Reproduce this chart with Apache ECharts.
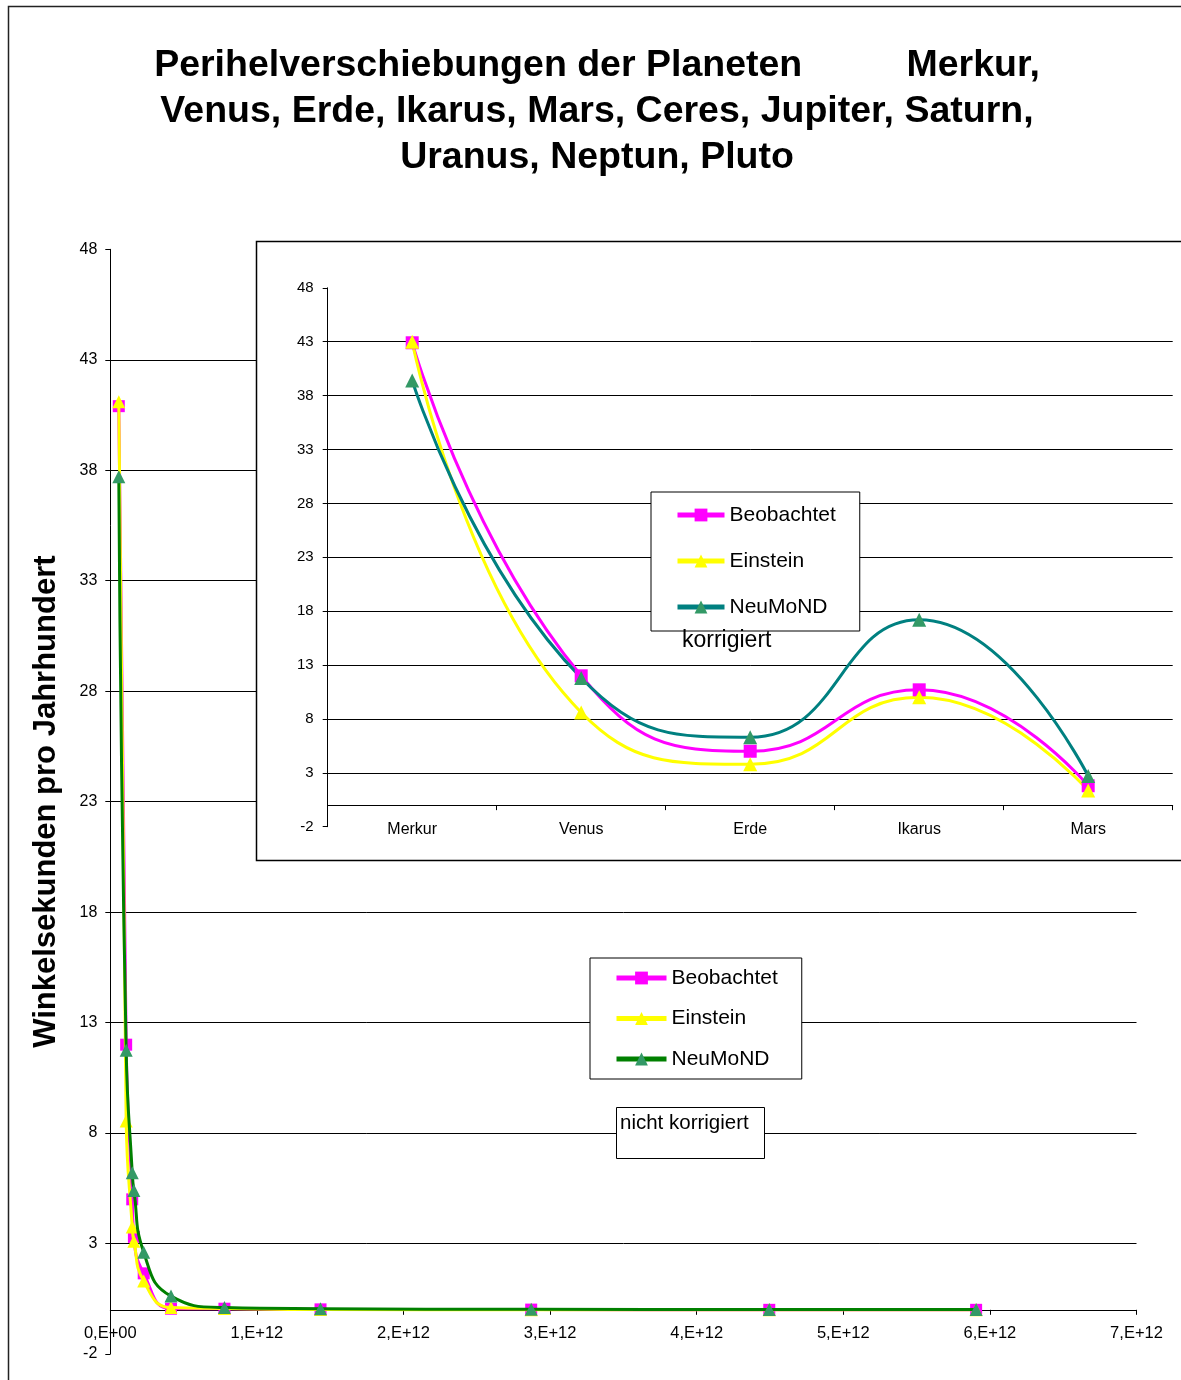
<!DOCTYPE html>
<html>
<head>
<meta charset="utf-8">
<script src="https://cdn.jsdelivr.net/npm/echarts@6/dist/echarts.min.js"></script>
<style>
html,body{margin:0;padding:0;background:#fff;}
#c{width:1181px;height:1380px;}
</style>
</head>
<body>
<div id="c"></div>
<script>
// ---------- DATA ----------
const titleLines = [
  'Perihelverschiebungen der Planeten          Merkur,',
  'Venus, Erde, Ikarus, Mars, Ceres, Jupiter, Saturn,',
  'Uranus, Neptun, Pluto'
];
const yAxisTitle = 'Winkelsekunden pro Jahrhundert';
const seriesNames = ['Beobachtet', 'Einstein', 'NeuMoND'];

// main chart (nicht korrigiert): x = große Halbachse in m
const planets = ['Merkur','Venus','Erde','Ikarus','Mars','Ceres','Jupiter','Saturn','Uranus','Neptun','Pluto'];
const semiMajorAxis = [5.79e10, 1.082e11, 1.496e11, 1.61e11, 2.279e11, 4.14e11, 7.785e11, 1.434e12, 2.871e12, 4.495e12, 5.906e12];
const beobachtetUncorr = [40.9, 12.0, 5.0, 3.3, 1.65, 0.05, 0.05, 0.02, 0.01, 0.0, 0.0];
const einsteinUncorr   = [41.1, 8.55, 3.75, 3.1, 1.3, 0.1, 0.06, 0.01, 0.0, 0.0, 0.0];
const neumondUncorr    = [37.7, 11.75, 6.2, 5.4, 2.6, 0.62, 0.1, 0.05, 0.02, 0.01, 0.01];
const xTickLabels = ['0,E+00','1,E+12','2,E+12','3,E+12','4,E+12','5,E+12','6,E+12','7,E+12'];

// inset (korrigiert)
const insetPlanets = ['Merkur','Venus','Erde','Ikarus','Mars'];
const beobachtetCorr = [42.9, 12.0, 5.0, 10.7, 1.8];
const einsteinCorr   = [43.0, 8.6, 3.8, 10.0, 1.35];
const neumondCorr    = [39.4, 11.8, 6.3, 17.2, 2.7];

const yTicks = [-2, 3, 8, 13, 18, 23, 28, 33, 38, 43, 48];
const gridValues = [3, 8, 13, 18, 23, 28, 33, 38, 43];

const noteMain = 'nicht korrigiert';
const noteInset = 'korrigiert';

// ---------- CHART ----------
const FONT = "'Liberation Sans', Arial, Helvetica, sans-serif";
const MAGENTA = '#FF00FF', YELLOW = '#FFFF00', GREEN = '#008000', TEAL = '#008080', MARK = '#339966';

const pair = (xs, ys) => xs.map((x, i) => [x, ys[i]]);

const chart = echarts.init(document.getElementById('c'));

const axisLabelStyle = (size, margin) => ({color:'#000', fontSize:size, fontFamily:FONT, margin:margin});

const option = {
  animation: false,
  backgroundColor: '#fff',
  textStyle: {fontFamily: FONT},
  grid: [
    {left:110.3, top:249.3, width:1026.2, height:1104.7, outerBoundsMode:'none', containLabel:false},
    {left:327.7, top:287.8, width:845, height:538.9, outerBoundsMode:'none', containLabel:false}
  ],
  xAxis: [
    {
      gridIndex:0, type:'value', min:0, max:7e12, interval:1e12,
      axisLine:{show:true, onZero:true, lineStyle:{color:'#000', width:1}},
      axisTick:{show:true, length:5, lineStyle:{color:'#000'}},
      axisLabel:Object.assign(axisLabelStyle(16.5, -29), {
        formatter:(v) => xTickLabels[Math.round(v/1e12)],
        showMinLabel:true, showMaxLabel:true
      }),
      splitLine:{show:false}
    },
    {
      gridIndex:1, type:'category', data:insetPlanets, boundaryGap:true, z:7,
      axisLine:{show:true, onZero:true, lineStyle:{color:'#000', width:1}},
      axisTick:{show:true, length:5, interval:0, lineStyle:{color:'#000'}},
      axisLabel:Object.assign(axisLabelStyle(16, -5.5), {interval:0}),
      splitLine:{show:false}
    }
  ],
  yAxis: [
    {
      gridIndex:0, type:'value', min:yTicks[0], max:yTicks[yTicks.length-1], interval:5,
      axisLine:{show:true, onZero:false, lineStyle:{color:'#000', width:1}},
      axisTick:{show:true, length:5, lineStyle:{color:'#000'}},
      axisLabel:axisLabelStyle(16, 13),
      splitLine:{show:false},
      name:yAxisTitle, nameLocation:'middle', nameRotate:90, nameGap:48,
      nameTextStyle:{fontSize:31, fontWeight:'bold', color:'#000', fontFamily:FONT}
    },
    {
      gridIndex:1, type:'value', min:yTicks[0], max:yTicks[yTicks.length-1], interval:5, z:7,
      axisLine:{show:true, onZero:false, lineStyle:{color:'#000', width:1}},
      axisTick:{show:true, length:5, lineStyle:{color:'#000'}},
      axisLabel:axisLabelStyle(15, 14),
      splitLine:{show:false}
    }
  ],
  legend: [
    {
      left:590, top:958, orient:'vertical',
      padding:[9.5,24,9.5,24], itemWidth:50, itemHeight:16, itemGap:19.5,
      backgroundColor:'#fff', borderColor:'#000', borderWidth:1, borderRadius:0,
      textStyle:{fontSize:21, color:'#000', fontFamily:FONT, lineHeight:21},
      lineStyle:{width:5},
      selectedMode:false, z:4,
      data:seriesNames
    },
    {
      left:651, top:492, orient:'vertical',
      padding:[12.5,24,13.5,24], itemWidth:47, itemHeight:16, itemGap:25,
      backgroundColor:'#fff', borderColor:'#000', borderWidth:1, borderRadius:0,
      textStyle:{fontSize:21, color:'#000', fontFamily:FONT, lineHeight:21},
      lineStyle:{width:5},
      selectedMode:false, z:9,
      data:[
        {name:seriesNames[0]},
        {name:seriesNames[1]},
        {name:seriesNames[2], itemStyle:{color:MARK}, lineStyle:{color:TEAL, width:5}}
      ]
    }
  ],
  series: [
    // main gridlines
    {
      type:'line', name:'_grid0', xAxisIndex:0, yAxisIndex:0, data:[], silent:true, z:1,
      markLine:{silent:true, symbol:'none', z:1, animation:false, label:{show:false},
        lineStyle:{color:'#000', width:1, type:'solid'}, emphasis:{disabled:true},
        data:gridValues.map(v => ({yAxis:v}))}
    },
    {
      name:seriesNames[0], type:'line', xAxisIndex:0, yAxisIndex:0, z:2,
      data:pair(semiMajorAxis, beobachtetUncorr), smooth:true,
      symbol:'rect', symbolSize:12, showAllSymbol:true,
      itemStyle:{color:MAGENTA}, lineStyle:{color:MAGENTA, width:3}
    },
    {
      name:seriesNames[1], type:'line', xAxisIndex:0, yAxisIndex:0, z:3,
      data:pair(semiMajorAxis, einsteinUncorr), smooth:true,
      symbol:'triangle', symbolSize:13, showAllSymbol:true,
      itemStyle:{color:YELLOW}, lineStyle:{color:YELLOW, width:3}
    },
    {
      name:seriesNames[2], type:'line', xAxisIndex:0, yAxisIndex:0, z:4,
      data:pair(semiMajorAxis, neumondUncorr), smooth:true,
      symbol:'triangle', symbolSize:13, showAllSymbol:true,
      itemStyle:{color:MARK}, lineStyle:{color:GREEN, width:3}
    },
    // inset gridlines
    {
      type:'line', name:'_grid1', xAxisIndex:1, yAxisIndex:1, data:[], silent:true, z:7,
      markLine:{silent:true, symbol:'none', z:7, animation:false, label:{show:false},
        lineStyle:{color:'#000', width:1, type:'solid'}, emphasis:{disabled:true},
        data:gridValues.map(v => ({yAxis:v}))}
    },
    {
      name:seriesNames[0], type:'line', xAxisIndex:1, yAxisIndex:1, z:8,
      data:beobachtetCorr, smooth:true,
      symbol:'rect', symbolSize:13,
      itemStyle:{color:MAGENTA}, lineStyle:{color:MAGENTA, width:3}
    },
    {
      name:seriesNames[1], type:'line', xAxisIndex:1, yAxisIndex:1, z:8,
      data:einsteinCorr, smooth:true,
      symbol:'triangle', symbolSize:14,
      itemStyle:{color:YELLOW}, lineStyle:{color:YELLOW, width:3}
    },
    {
      name:seriesNames[2], type:'line', xAxisIndex:1, yAxisIndex:1, z:8,
      data:neumondCorr, smooth:true,
      symbol:'triangle', symbolSize:14,
      itemStyle:{color:MARK}, lineStyle:{color:TEAL, width:3}
    }
  ],
  graphic: [
    {type:'rect', silent:true, z:0, shape:{x:8.5, y:6.5, width:1300, height:1500},
      style:{fill:'none', stroke:'#222', lineWidth:1.5}},
    {type:'text', silent:true, z:10, x:597, y:66,
      style:{text:titleLines[0], fontSize:37.5, fontWeight:'bold', fontFamily:FONT, fill:'#000', textAlign:'center', textVerticalAlign:'middle'}},
    {type:'text', silent:true, z:10, x:597, y:112,
      style:{text:titleLines[1], fontSize:37.5, fontWeight:'bold', fontFamily:FONT, fill:'#000', textAlign:'center', textVerticalAlign:'middle'}},
    {type:'text', silent:true, z:10, x:597, y:158,
      style:{text:titleLines[2], fontSize:37.5, fontWeight:'bold', fontFamily:FONT, fill:'#000', textAlign:'center', textVerticalAlign:'middle'}},
    // inset panel
    {type:'rect', silent:true, z:6, shape:{x:256.5, y:241.5, width:1000, height:619},
      style:{fill:'#fff', stroke:'#000', lineWidth:1.5}},
    {type:'text', silent:true, z:9, x:682, y:641,
      style:{text:noteInset, fontSize:23, fontFamily:FONT, fill:'#000', textAlign:'left', textVerticalAlign:'middle'}},
    // "nicht korrigiert" box
    {type:'rect', silent:true, z:4, shape:{x:616.5, y:1107.5, width:148, height:51},
      style:{fill:'#fff', stroke:'#000', lineWidth:1}},
    {type:'text', silent:true, z:5, x:620, y:1123,
      style:{text:noteMain, fontSize:20.5, fontFamily:FONT, fill:'#000', textAlign:'left', textVerticalAlign:'middle'}}
  ]
};
chart.setOption(option);
</script>
</body>
</html>
